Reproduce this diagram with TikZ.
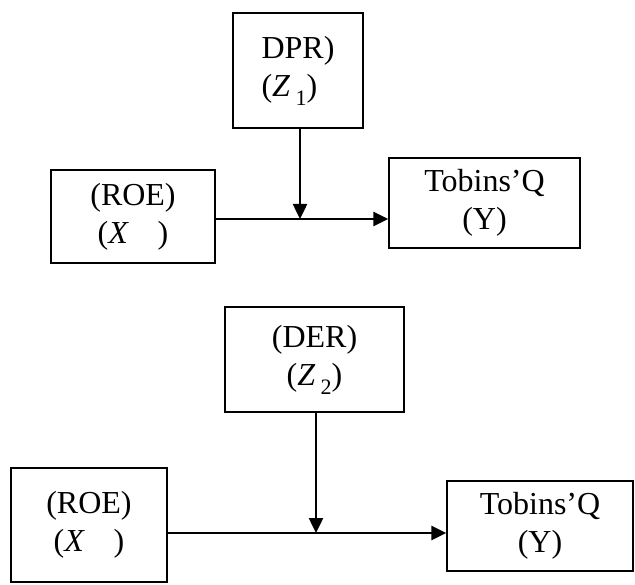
\documentclass[tikz,border=0pt]{standalone}
\usepackage{fontspec}
\setmainfont{Liberation Serif}
\usetikzlibrary{arrows.meta}
\newcommand{\mysub}[1]{\raisebox{-0.28em}{\fontsize{22}{22}\selectfont #1}}
\begin{document}
\begin{tikzpicture}[x=1pt,y=-1pt,
  box/.style={draw=black, line width=1.4pt, rectangle, inner sep=0pt, align=center,
    font=\fontsize{32}{38}\selectfont},
  arr/.style={draw=black, line width=2.5pt, -{Triangle[length=15pt,width=14pt]}},
  ]
\useasboundingbox (0,0) rectangle (635,585);
% top diagram
\node[box, minimum width=130pt, minimum height=115pt, align=left] (dpr) at (298,70.5)
  {DPR)\\(\textit{Z}\,\mysub{1})};
\node[box, minimum width=164pt, minimum height=93pt] (roeA) at (133,216.5)
  {(ROE)\\(\textit{X}\hspace{0.9em})};
\node[box, minimum width=191pt, minimum height=90pt] (tqA) at (484.5,203)
  {Tobins'Q\\(Y)};
\coordinate (mA) at (300,219);
\draw[arr] (roeA.east |- mA) -- (tqA.west |- mA);
\draw[arr] (dpr.south -| mA) -- (mA);
% bottom diagram
\node[box, minimum width=179pt, minimum height=105pt] (der) at (314.5,359.5)
  {(DER)\\(\textit{Z}\,\mysub{2})};
\node[box, minimum width=156pt, minimum height=114pt] (roeB) at (89,525)
  {(ROE)\\(\textit{X}\hspace{0.9em})};
\node[box, minimum width=186pt, minimum height=90pt] (tqB) at (540,526)
  {Tobins'Q\\(Y)};
\coordinate (mB) at (316,533);
\draw[arr] (roeB.east |- mB) -- (tqB.west |- mB);
\draw[arr] (der.south -| mB) -- (mB);
\end{tikzpicture}
\end{document}
